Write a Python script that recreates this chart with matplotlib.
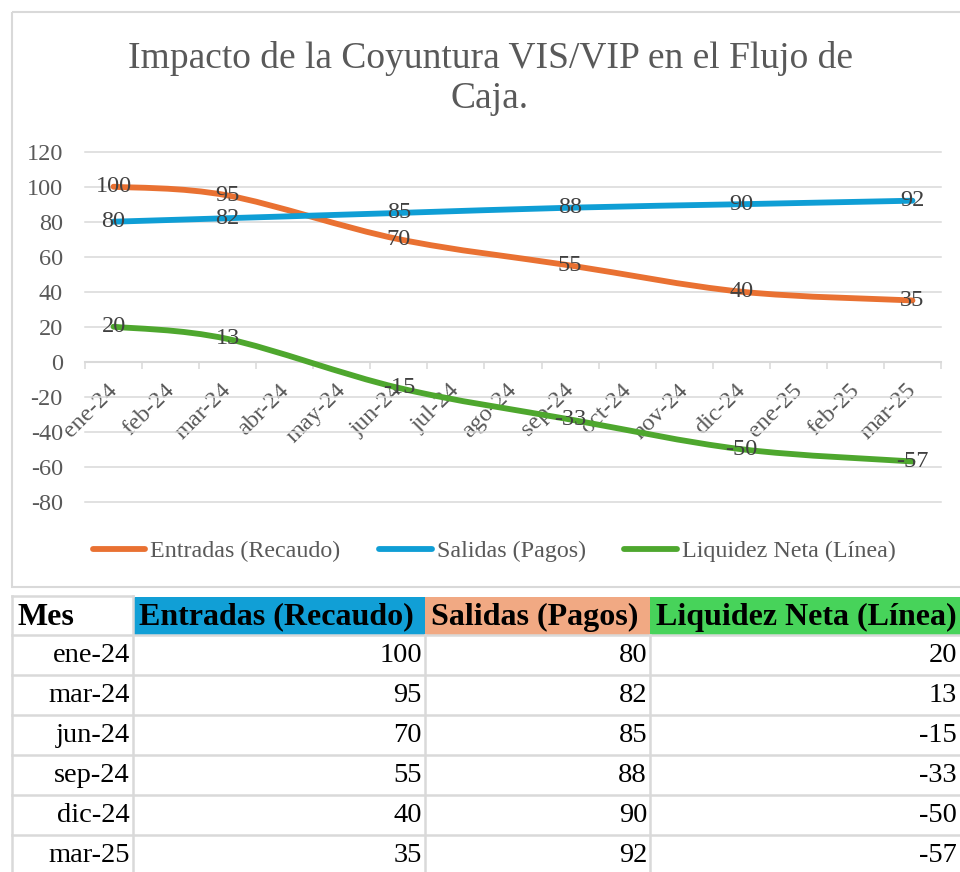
import numpy as np
import matplotlib
matplotlib.use('Agg')
import matplotlib.pyplot as plt
from matplotlib.path import Path
from matplotlib.patches import PathPatch, Rectangle
from matplotlib.lines import Line2D
from matplotlib.transforms import ScaledTranslation

plt.rcParams['font.family'] = ['Liberation Serif', 'DejaVu Serif']
plt.rcParams['axes.unicode_minus'] = False

# datos
meses = ['ene-24', 'feb-24', 'mar-24', 'abr-24', 'may-24', 'jun-24', 'jul-24', 'ago-24',
         'sep-24', 'oct-24', 'nov-24', 'dic-24', 'ene-25', 'feb-25', 'mar-25']
meses_datos = ['ene-24', 'mar-24', 'jun-24', 'sep-24', 'dic-24', 'mar-25']
entradas = [100, 95, 70, 55, 40, 35]
salidas = [80, 82, 85, 88, 90, 92]
liquidez = [20, 13, -15, -33, -50, -57]
series = ['Entradas (Recaudo)', 'Salidas (Pagos)', 'Liquidez Neta (Línea)']
colores = ['#E97132', '#0F9ED5', '#4EA72E']
cabecera = ['Mes'] + series
relleno_cabecera = ['white', '#119FD6', '#F1A983', '#47D35A']

W, H = 960, 872
GRIS = '#D9D9D9'
TEXTO = '#595959'


def curva_suave(xs, ys):
    # linea suavizada tipo Excel (Bezier a partir de los puntos)
    pts = np.column_stack([xs, ys]).astype(float)
    n = len(pts)
    verts = [pts[0]]
    codes = [Path.MOVETO]
    for i in range(n - 1):
        p0 = pts[max(i - 1, 0)]
        p1 = pts[i]
        p2 = pts[i + 1]
        p3 = pts[min(i + 2, n - 1)]
        verts += [p1 + (p2 - p0) / 6, p2 - (p3 - p1) / 6, p2]
        codes += [Path.CURVE4] * 3
    return Path(verts, codes)


fig = plt.figure(figsize=(W / 100, H / 100), dpi=100)

# fondo en pixeles: marco del grafico + tabla
bg = fig.add_axes([0, 0, 1, 1])
bg.set_xlim(0, W)
bg.set_ylim(H, 0)
bg.axis('off')
bg.add_patch(Rectangle((12, 12), 960, 575, fill=False, ec=GRIS, lw=1.5))

bg.text(490, 41, 'Impacto de la Coyuntura VIS/VIP en el Flujo de\nCaja.', ha='center', va='top',
        fontsize=27, color=TEXTO, linespacing=1.2)

# tabla
cols_x = [12, 133, 425, 650, 970]
filas_y = [596, 635] + [635 + 40 * (i + 1) for i in range(6)]
for j in range(1, 4):
    bg.add_patch(Rectangle((cols_x[j], 597), cols_x[j + 1] - cols_x[j], 38,
                           color=relleno_cabecera[j], lw=0))
bg.plot([cols_x[0], cols_x[1]], [596, 596], color=GRIS, lw=1.8)
for y in filas_y[1:]:
    bg.plot([cols_x[0], cols_x[-1]], [y, y], color=GRIS, lw=1.8)
for j, x in enumerate(cols_x[:-1]):
    y0 = 596 if j < 2 else 635
    bg.plot([x, x], [y0, filas_y[-1]], color=GRIS, lw=1.8)

for j, txt in enumerate(cabecera):
    bg.text(cols_x[j] + 6, 617, txt, ha='left', va='center', fontsize=23,
            fontweight='bold', color='black')

columnas = [meses_datos, entradas, salidas, liquidez]
borde_der = [130, 422, 647, 957]
for i in range(len(meses_datos)):
    yc = (filas_y[i + 1] + filas_y[i + 2]) / 2
    for j, col in enumerate(columnas):
        bg.text(borde_der[j], yc, str(col[i]), ha='right', va='center',
                fontsize=20.5, color='black')

# grafico de lineas
ax = fig.add_axes([85 / W, 1 - 501.7 / H, 856 / W, 350 / H])
ax.set_facecolor('none')
ax.set_xlim(-0.5, len(meses) - 0.5)
ax.set_ylim(-80, 120)
ax.set_yticks(range(-80, 121, 20))
ax.tick_params(axis='y', length=0, pad=16, labelsize=17.5, labelcolor=TEXTO)
ax.grid(axis='y', color=GRIS, lw=1.1)
ax.set_axisbelow(True)
for gl in ax.get_ygridlines():
    gl.set_clip_on(False)

for s in ['left', 'right', 'top']:
    ax.spines[s].set_visible(False)
ax.spines['bottom'].set_position(('data', 0))
ax.spines['bottom'].set_color(GRIS)
ax.spines['bottom'].set_linewidth(1.5)

ax.set_xticks(np.arange(-0.5, len(meses), 1))
ax.set_xticklabels([])
ax.tick_params(axis='x', which='major', length=5, width=1.1, color=GRIS, direction='out')
ax.set_xticks(range(len(meses)), minor=True)
ax.set_xticklabels(meses, minor=True, rotation=45, ha='right', fontsize=17.5, color=TEXTO)
ax.tick_params(axis='x', which='minor', length=0, pad=13)
desplaza = ScaledTranslation(0.08, 0, fig.dpi_scale_trans)
for lab in ax.get_xticklabels(minor=True):
    lab.set_transform(lab.get_transform() + desplaza)

xs = [meses.index(m) for m in meses_datos]
for vals, c in zip([entradas, salidas, liquidez], colores):
    ax.add_patch(PathPatch(curva_suave(xs, vals), fc='none', ec=c, lw=4.2,
                           capstyle='round', joinstyle='round', zorder=3))
for vals in [entradas, salidas, liquidez]:
    for x, v in zip(xs, vals):
        ax.text(x, v, str(v), ha='center', va='center', fontsize=17.5, color='#404040', zorder=5)

handles = [Line2D([], [], color=c, lw=4.2, solid_capstyle='round') for c in colores]
fig.legend(handles, series, loc='center', bbox_to_anchor=(494 / W, 1 - 551 / H), ncol=3,
           frameon=False, fontsize=17.3, handlelength=2.2, handletextpad=0.2,
           columnspacing=1.6, labelcolor=TEXTO)

fig.savefig('out.png', dpi=100)
